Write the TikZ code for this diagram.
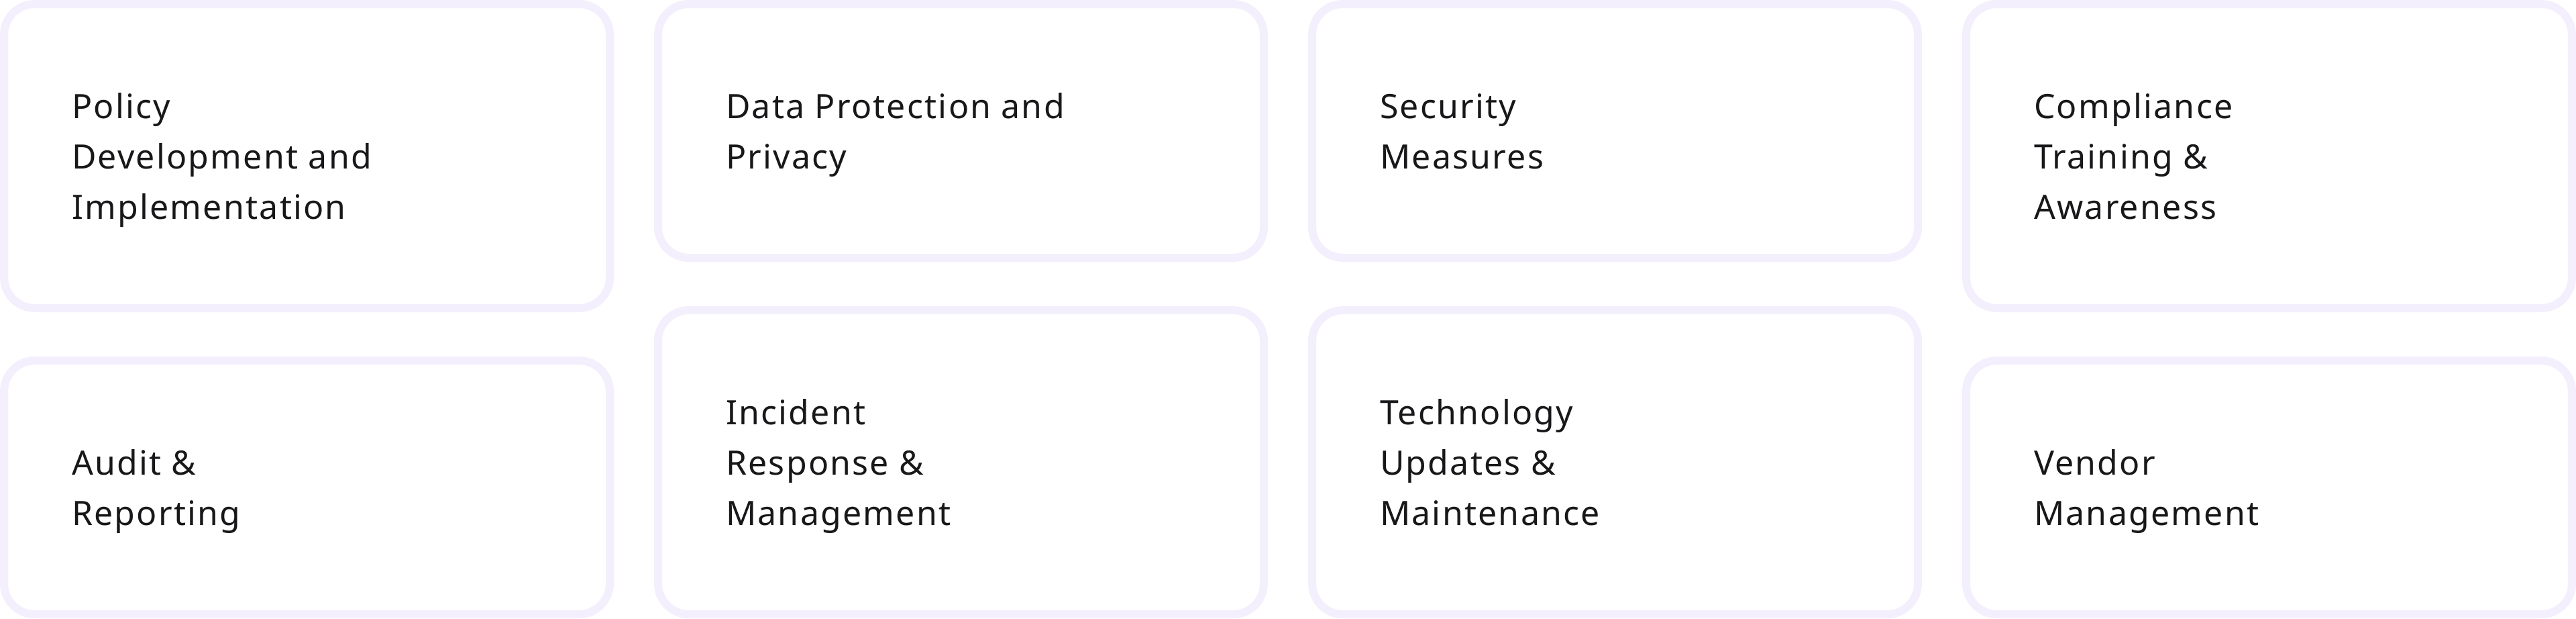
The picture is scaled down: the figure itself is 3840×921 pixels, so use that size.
\documentclass[tikz,border=0pt]{standalone}
\usepackage{fontspec}
\setmainfont[LetterSpace=4.5]{Noto Sans}
\definecolor{cardline}{HTML}{F4EFFC}
\definecolor{cardtext}{HTML}{18181A}
\newcommand{\firststrut}{\rule{0pt}{40pt}}
\begin{document}
\begin{tikzpicture}[x=1pt,y=-1pt,
  card/.style={draw=cardline, line width=12pt, rounded corners=46pt, fill=white,
    minimum width=903pt, inner sep=0pt, outer sep=0pt, anchor=north west},
  cardlabel/.style={anchor=north west, align=left, inner sep=0pt, outer sep=0pt,
    text=cardtext, font=\fontsize{50}{75}\selectfont},
  three/.style={xshift=101pt, yshift=96pt},
  two/.style={xshift=101pt, yshift=58.5pt}]
\useasboundingbox (0,0) rectangle (3840,921);
\fill[white] (0,0) rectangle (3840,921);
% column 1
\node[card, minimum height=453pt] (b1) at (6,6) {};
\node[card, minimum height=378pt] (b5) at (6,537) {};
% column 2
\node[card, minimum height=378pt] (b2) at (981,6) {};
\node[card, minimum height=453pt] (b6) at (981,462) {};
% column 3
\node[card, minimum height=378pt] (b3) at (1956,6) {};
\node[card, minimum height=453pt] (b7) at (1956,462) {};
% column 4
\node[card, minimum height=453pt] (b4) at (2931,6) {};
\node[card, minimum height=378pt] (b8) at (2931,537) {};
% labels
\node[cardlabel] (t1) at ([three]b1.west) {\firststrut Policy\\Development and\\Implementation};
\node[cardlabel] (t2) at ([two]b2.west) {\firststrut Data Protection and\\Privacy};
\node[cardlabel] (t3) at ([two]b3.west) {\firststrut Security\\Measures};
\node[cardlabel] (t4) at ([three]b4.west) {\firststrut Compliance\\Training \&\\Awareness};
\node[cardlabel] (t5) at ([two]b5.west) {\firststrut Audit \&\\Reporting};
\node[cardlabel] (t6) at ([three]b6.west) {\firststrut Incident\\Response \&\\Management};
\node[cardlabel] (t7) at ([three]b7.west) {\firststrut Technology\\Updates \&\\Maintenance};
\node[cardlabel] (t8) at ([two]b8.west) {\firststrut Vendor\\Management};
\end{tikzpicture}
\end{document}
